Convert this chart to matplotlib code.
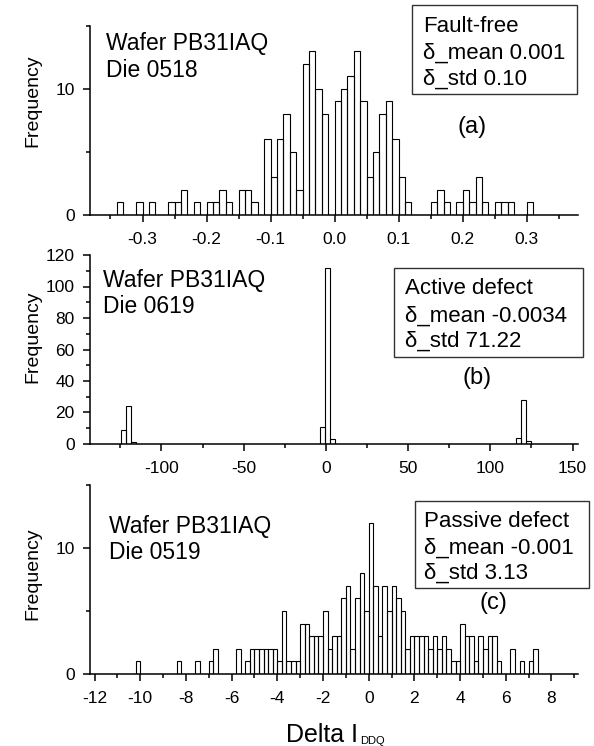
import matplotlib
matplotlib.use('Agg')
import matplotlib.pyplot as plt
from matplotlib.patches import Rectangle
from matplotlib.ticker import MultipleLocator, FormatStrFormatter

plt.rcParams['font.family'] = ['Liberation Sans', 'DejaVu Sans']
plt.rcParams['axes.unicode_minus'] = False

# (a) fault-free die, bin width 0.01
a_left = [-0.34, -0.31, -0.29, -0.26, -0.25, -0.24, -0.22, -0.20, -0.19, -0.18,
          -0.17, -0.15, -0.14, -0.13, -0.11, -0.10, -0.09, -0.08, -0.07, -0.06,
          -0.05, -0.04, -0.03, -0.02, 0.00, 0.01, 0.02, 0.03, 0.04, 0.05,
          0.06, 0.07, 0.08, 0.09, 0.10, 0.11, 0.15, 0.16, 0.17, 0.19,
          0.20, 0.21, 0.22, 0.23, 0.25, 0.26, 0.27, 0.30]
a_count = [1, 1, 1, 1, 1, 2, 1, 1, 1, 2,
           1, 2, 2, 1, 6, 3, 6, 8, 5, 2,
           12, 13, 10, 8, 9, 10, 11, 13, 9, 3,
           5, 8, 9, 6, 3, 1, 1, 2, 1, 1,
           2, 1, 3, 1, 1, 1, 1, 1]

# (b) active defect, bin width 3
b_left = [-124.5, -121.5, -118.5, -3.5, -0.5, 2.5, 115.5, 118.5, 121.5]
b_count = [9, 24, 1, 11, 112, 3, 4, 28, 2]

# (c) passive defect, bin width 0.2
c_left = [-10.2, -8.4, -7.6, -7.0, -6.8, -5.8, -5.4, -5.2, -5.0, -4.8,
          -4.6, -4.4, -4.2, -4.0, -3.8, -3.6, -3.4, -3.2, -3.0, -2.8,
          -2.6, -2.4, -2.2, -2.0, -1.8, -1.6, -1.4, -1.2, -1.0, -0.8,
          -0.6, -0.4, -0.2, 0.0, 0.2, 0.4, 0.6, 0.8, 1.0, 1.2,
          1.4, 1.6, 1.8, 2.0, 2.2, 2.4, 2.6, 2.8, 3.0, 3.2,
          3.4, 3.6, 3.8, 4.0, 4.2, 4.4, 4.6, 4.8, 5.0, 5.2,
          5.4, 5.6, 6.2, 6.6, 7.0, 7.2]
c_count = [1, 1, 1, 1, 2, 2, 1, 2, 2, 2,
           2, 2, 2, 1, 5, 1, 1, 1, 4, 4,
           3, 3, 3, 5, 2, 3, 3, 6, 7, 2,
           6, 8, 5, 12, 7, 3, 7, 5, 7, 6,
           5, 2, 3, 3, 3, 3, 2, 3, 2, 3,
           2, 1, 1, 4, 3, 3, 1, 3, 2, 3,
           3, 1, 2, 1, 1, 2]

W, H = 594, 746


def fx(px):
    return px / W


def fy(py):
    return 1 - py / H


fig = plt.figure(figsize=(W / 100, H / 100), dpi=100)


def make_axes(top, bottom):
    return fig.add_axes([fx(90), fy(bottom), fx(578) - fx(90), fy(top) - fy(bottom)])


def style(ax):
    ax.spines['top'].set_visible(False)
    ax.spines['right'].set_visible(False)
    ax.spines['left'].set_linewidth(1.1)
    ax.spines['bottom'].set_linewidth(1.1)
    ax.tick_params(which='major', direction='out', length=5, width=1.1,
                   labelsize=12.5, pad=6)
    ax.tick_params(axis='x', which='major', pad=7)
    ax.tick_params(which='minor', direction='out', length=3.2, width=1.1)


def bars(ax, left, count, width):
    ax.bar(left, count, width=width, align='edge', fill=False,
           edgecolor='black', linewidth=0.8)


# panel (a)
ax1 = make_axes(25.7, 215)
bars(ax1, a_left, a_count, 0.01)
ax1.set_xlim(-0.382, 0.380)
ax1.set_ylim(0, 15)
ax1.xaxis.set_major_locator(MultipleLocator(0.1))
ax1.xaxis.set_minor_locator(MultipleLocator(0.05))
ax1.xaxis.set_major_formatter(FormatStrFormatter('%.1f'))
ax1.yaxis.set_major_locator(MultipleLocator(10))
ax1.yaxis.set_minor_locator(MultipleLocator(5))
style(ax1)

# panel (b)
ax2 = make_axes(255, 444)
bars(ax2, b_left, b_count, 3)
ax2.set_xlim(-143.4, 153.3)
ax2.set_ylim(0, 120)
ax2.xaxis.set_major_locator(MultipleLocator(50))
ax2.xaxis.set_minor_locator(MultipleLocator(25))
ax2.yaxis.set_major_locator(MultipleLocator(20))
ax2.yaxis.set_minor_locator(MultipleLocator(10))
style(ax2)

# panel (c)
ax3 = make_axes(485, 674)
bars(ax3, c_left, c_count, 0.2)
ax3.set_xlim(-12.2, 9.16)
ax3.set_ylim(0, 15)
ax3.xaxis.set_major_locator(MultipleLocator(2))
ax3.xaxis.set_minor_locator(MultipleLocator(1))
ax3.yaxis.set_major_locator(MultipleLocator(10))
ax3.yaxis.set_minor_locator(MultipleLocator(5))
style(ax3)

# y labels
for yc in [101, 337, 574]:
    fig.text(fx(33), fy(yc), 'Frequency', rotation=90, ha='center', va='center',
             fontsize=14)

# wafer / die labels
wafer = [(105.7, 50, 77, 'Die 0518'), (102.7, 287, 313, 'Die 0619'),
         (109.3, 533, 559, 'Die 0519')]
for x, y1, y2, die in wafer:
    fig.text(fx(x), fy(y1), 'Wafer PB31IAQ', fontsize=16.5, va='baseline')
    fig.text(fx(x), fy(y2), die, fontsize=16.5, va='baseline')

# stat boxes
boxes = [
    ((411.7, 5, 576.7, 94), 422.7, [31.7, 59, 85],
     ['Fault-free', 'δ_mean 0.001', 'δ_std 0.10']),
    ((394, 267.7, 582.7, 356.7), 405, [294, 321.5, 346.7],
     ['Active defect', 'δ_mean -0.0034', 'δ_std 71.22']),
    ((415, 501, 588.7, 588.3), 424, [526.7, 553.3, 578.3],
     ['Passive defect', 'δ_mean -0.001', 'δ_std 3.13']),
]
for (x0, y0, x1, y1), tx, ys, lines in boxes:
    fig.add_artist(Rectangle((fx(x0), fy(y1)), fx(x1) - fx(x0), fy(y0) - fy(y1),
                             transform=fig.transFigure, fill=False,
                             edgecolor='#333333', linewidth=1.0))
    for ty, s in zip(ys, lines):
        fig.text(fx(tx), fy(ty), s, fontsize=16, va='baseline')

# panel letters
for x, y, s in [(472.5, 127, '(a)'), (476.7, 378, '(b)'), (493, 603, '(c)')]:
    fig.text(fx(x), fy(y), s, fontsize=17, ha='center', va='center')

# x label with small subscript placed right after the main text
xl = fig.text(fx(286), fy(742), 'Delta I', fontsize=18, va='baseline')
fig.canvas.draw()
bb = xl.get_window_extent(renderer=fig.canvas.get_renderer())
fig.text(fx(bb.x1 + 2), fy(744.5), 'DDQ', fontsize=8, va='baseline')

fig.savefig('out.png', dpi=100)
